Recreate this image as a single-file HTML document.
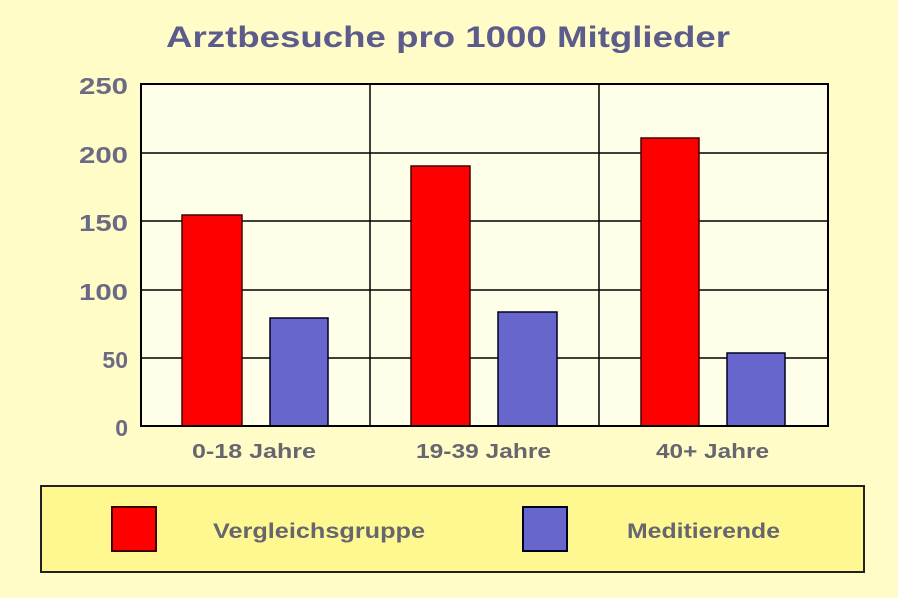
<!DOCTYPE html>
<html><head><style>body{margin:0;background:#fffcc8;}</style></head><body>
<svg width="898" height="598" xmlns="http://www.w3.org/2000/svg" style="display:block">
<rect width="898" height="598" fill="#fffcc8"/>
<text x="166" y="47" textLength="564" lengthAdjust="spacingAndGlyphs" font-family="Liberation Sans, sans-serif" font-weight="bold" font-size="30" fill="#5c5c8c">Arztbesuche pro 1000 Mitglieder</text>
<rect x="141" y="84" width="687" height="342" fill="#fffee8"/>
<g stroke="#000" stroke-width="1.5">
<line x1="141" y1="153" x2="828" y2="153"/><line x1="141" y1="221" x2="828" y2="221"/>
<line x1="141" y1="290" x2="828" y2="290"/><line x1="141" y1="358" x2="828" y2="358"/>
<line x1="370" y1="84" x2="370" y2="426"/><line x1="599" y1="84" x2="599" y2="426"/>
</g>
<g stroke="#400" stroke-width="1.5">
<rect x="182" y="215" width="60" height="211" fill="#ff0000"/>
<rect x="270" y="318" width="58" height="108" fill="#6666cc" stroke="#002"/>
<rect x="411" y="166" width="59" height="260" fill="#ff0000"/>
<rect x="498" y="312" width="59" height="114" fill="#6666cc" stroke="#002"/>
<rect x="641" y="138" width="58" height="288" fill="#ff0000"/>
<rect x="727" y="353" width="58" height="73" fill="#6666cc" stroke="#002"/>
</g>
<rect x="141" y="84" width="687" height="342" fill="none" stroke="#000" stroke-width="2"/>
<g font-family="Liberation Sans, sans-serif" font-weight="bold" font-size="23" fill="#6a6a84" text-anchor="end">
<text x="128" y="94" textLength="49" lengthAdjust="spacingAndGlyphs">250</text><text x="128" y="163" textLength="49" lengthAdjust="spacingAndGlyphs">200</text><text x="128" y="231" textLength="49" lengthAdjust="spacingAndGlyphs">150</text>
<text x="128" y="300" textLength="49" lengthAdjust="spacingAndGlyphs">100</text><text x="128" y="368">50</text><text x="128" y="436">0</text>
</g>
<g font-family="Liberation Sans, sans-serif" font-weight="bold" font-size="20" fill="#666670">
<text x="192" y="458" textLength="124" lengthAdjust="spacingAndGlyphs">0-18 Jahre</text><text x="416" y="458" textLength="135" lengthAdjust="spacingAndGlyphs">19-39 Jahre</text><text x="656" y="458" textLength="113" lengthAdjust="spacingAndGlyphs">40+ Jahre</text>
</g>
<rect x="41" y="486" width="823" height="86" fill="#fff890" stroke="#222" stroke-width="2"/>
<rect x="112" y="507" width="44" height="44" fill="#ff0000" stroke="#400" stroke-width="2"/>
<rect x="523" y="507" width="44" height="44" fill="#6666cc" stroke="#002" stroke-width="2"/>
<g font-family="Liberation Sans, sans-serif" font-weight="bold" font-size="21" fill="#666670">
<text x="213" y="538" textLength="212" lengthAdjust="spacingAndGlyphs">Vergleichsgruppe</text><text x="627" y="538" textLength="153" lengthAdjust="spacingAndGlyphs">Meditierende</text>
</g>
</svg>
</body></html>
